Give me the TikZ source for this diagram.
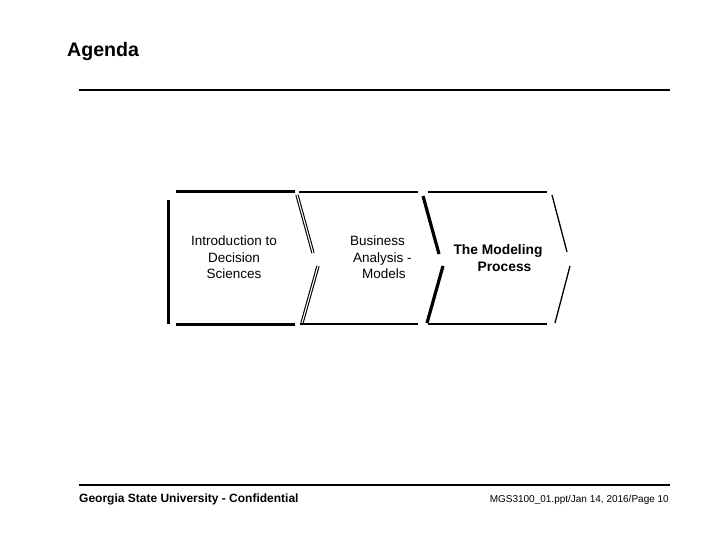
\documentclass[tikz,border=0pt]{standalone}
\usepackage{fontspec}
\setmainfont{Liberation Sans}
\begin{document}
\begin{tikzpicture}[x=1pt,y=-1pt,
  boxtext/.style={inner sep=0pt,font=\fontsize{13.5}{16.5}\selectfont,align=center},
  thickedge/.style={line width=3pt},
  midedge/.style={line width=2pt},
  thinedge/.style={line width=1.3pt},
  dbledge/.style={line width=1.1pt,double=white,double distance=1.1pt},
  rule/.style={line width=2.4pt}]
\useasboundingbox (0,0) rectangle (720,540);
% title
\node[anchor=base west,inner sep=0pt,font=\fontsize{19.6}{22}\selectfont\bfseries] (title) at (67,57) {Agenda};
\draw[rule] (79,90) -- (670,90);
% box 1
\draw[thickedge] (176,192) -- (295,192);
\draw[thickedge] (176,324) -- (295,324);
\draw[thickedge] (168,200) -- (168,324);
\draw[dbledge] (297,195) -- (313,253);
\draw[dbledge] (318,266) -- (302,323);
% box 2
\draw[midedge] (299,192) -- (418,192);
\draw[midedge] (300,324) -- (418,324);
\draw[line width=3.2pt] (423,196) -- (439,254);
\draw[line width=3.2pt] (443,266) -- (427,323);
% box 3
\draw[midedge] (428,192) -- (547,192);
\draw[midedge] (428,324) -- (547,324);
\draw[thinedge] (552,195) -- (567,252);
\draw[thinedge] (570,266) -- (555,323);
% texts
\node[boxtext] (intro) at (234,257.5) {Introduction to\\Decision\\Sciences};
\node[boxtext,align=left,anchor=west] (busi) at (350,257.5) {Business\\\hspace*{3pt}Analysis -\\\hspace*{12pt}Models};
\node[boxtext,font=\fontsize{13.8}{17}\selectfont\bfseries] (model) at (498,258.5) {The Modeling\\\hspace*{13pt}Process};
% footer
\draw[rule] (79,485) -- (670,485);
\node[anchor=base west,inner sep=0pt,font=\fontsize{12}{14}\selectfont\bfseries] (footl) at (79,502) {Georgia State University - Confidential};
\node[anchor=base east,inner sep=0pt,font=\fontsize{10}{12}\selectfont] (footr) at (669,502) {MGS3100\_01.ppt/Jan 14, 2016/Page 10};
\end{tikzpicture}
\end{document}
